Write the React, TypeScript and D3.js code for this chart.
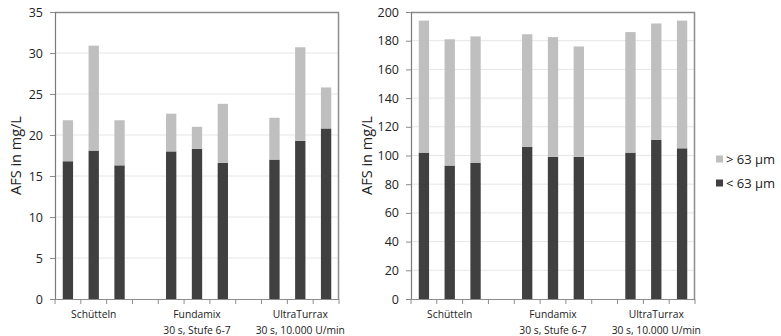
import React, { useEffect, useRef } from 'react';
import * as d3 from 'd3';

// slots on the x axis: three groups of three bars with an empty slot between groups
const slotKeys = ['s1', 's2', 's3', 'g1', 'f1', 'f2', 'f3', 'g2', 'u1', 'u2', 'u3'];
const barSlots = ['s1', 's2', 's3', 'f1', 'f2', 'f3', 'u1', 'u2', 'u3'];
const groupLabels = [
  { slot: 's2', lines: ['Schütteln'] },
  { slot: 'f2', lines: ['Fundamix', '30 s, Stufe 6-7'] },
  { slot: 'u2', lines: ['UltraTurrax', '30 s, 10.000 U/min'] },
];

const seriesNames = ['< 63 µm', '> 63 µm'];
const seriesColors = ['#404040', '#bfbfbf'];

// left panel
const leftFine = [16.8, 18.1, 16.3, 18.0, 18.3, 16.6, 17.0, 19.3, 20.8];
const leftCoarse = [5.0, 12.8, 5.5, 4.6, 2.7, 7.2, 5.1, 11.4, 5.0];
const leftTicks = [0, 5, 10, 15, 20, 25, 30, 35];

// right panel
const rightFine = [102, 93, 95, 106, 99, 99, 102, 111, 105];
const rightCoarse = [92, 88, 88, 78.5, 83.5, 77, 84, 81, 89];
const rightTicks = [0, 20, 40, 60, 80, 100, 120, 140, 160, 180, 200];

const FONT = '"Open Sans", sans-serif';

const drawPanel = (svg, opts) => {
  const { left, right, top, bottom, fine, coarse, ticks, max, titleX } = opts;

  const x = d3.scaleBand().domain(slotKeys).range([left, right]).paddingInner(0.6).paddingOuter(0.3);
  const y = d3.scaleLinear().domain([0, max]).range([bottom, top]);

  const g = svg.append('g');

  // grid lines
  g.append('g')
    .selectAll('line')
    .data(ticks.filter(t => t > 0 && t < max))
    .enter()
    .append('line')
    .attr('x1', left)
    .attr('x2', right)
    .attr('y1', d => y(d))
    .attr('y2', d => y(d))
    .attr('stroke', '#e6e6e6')
    .attr('stroke-width', 1);

  // stacked bars
  const rows = barSlots.map((s, i) => ({ slot: s, fine: fine[i], coarse: coarse[i] }));
  const stacked = d3.stack().keys(['fine', 'coarse'])(rows);

  g.append('g')
    .selectAll('g')
    .data(stacked)
    .enter()
    .append('g')
    .attr('fill', (d, i) => seriesColors[i])
    .selectAll('rect')
    .data(d => d)
    .enter()
    .append('rect')
    .attr('x', d => x(d.data.slot))
    .attr('width', x.bandwidth())
    .attr('y', d => y(d[1]))
    .attr('height', d => y(d[0]) - y(d[1]));

  // frame: top and right
  g.append('path')
    .attr('d', `M${left},${top + 0.5}H${right - 0.5}V${bottom}`)
    .attr('fill', 'none')
    .attr('stroke', '#8c8c8c')
    .attr('stroke-width', 1.5);

  // y axis
  const yAxis = g.append('g')
    .attr('transform', `translate(${left},0)`)
    .call(d3.axisLeft(y).tickValues(ticks).tickSize(5).tickPadding(7));
  yAxis.select('.domain').attr('stroke', '#7a7a7a').attr('stroke-width', 1.2);
  yAxis.selectAll('.tick line').attr('stroke', '#8c8c8c');
  yAxis.selectAll('text')
    .attr('font-family', FONT)
    .attr('font-size', 12.5)
    .attr('fill', '#222');

  // x axis with ticks on slot boundaries
  g.append('line')
    .attr('x1', left)
    .attr('x2', right)
    .attr('y1', bottom + 0.5)
    .attr('y2', bottom + 0.5)
    .attr('stroke', '#8c8c8c')
    .attr('stroke-width', 1.2);
  const step = x.step();
  const edges = d3.range(slotKeys.length + 1).map(i => x.range()[0] + (x.paddingOuter() - x.paddingInner() / 2) * step + i * step);
  g.append('g')
    .selectAll('line')
    .data(edges)
    .enter()
    .append('line')
    .attr('x1', d => d)
    .attr('x2', d => d)
    .attr('y1', bottom)
    .attr('y2', bottom + 5)
    .attr('stroke', '#8c8c8c');

  // category labels
  groupLabels.forEach(gl => {
    const cx = x(gl.slot) + x.bandwidth() / 2;
    gl.lines.forEach((line, j) => {
      g.append('text')
        .attr('x', cx)
        .attr('y', bottom + 15 + j * 15.5)
        .attr('text-anchor', 'middle')
        .attr('dominant-baseline', 'central')
        .attr('font-family', FONT)
        .attr('font-size', 10.3)
        .attr('fill', '#222')
        .text(line);
    });
  });

  // y title
  g.append('text')
    .attr('transform', `translate(${titleX},${(top + bottom) / 2}) rotate(-90)`)
    .attr('text-anchor', 'middle')
    .attr('dominant-baseline', 'central')
    .attr('font-family', FONT)
    .attr('font-size', 14.5)
    .attr('fill', '#222')
    .text('AFS in mg/L');
};

const App = () => {
  const svgRef = useRef(null);

  useEffect(() => {
    document.body.style.margin = '0';
    const svg = d3.select(svgRef.current);
    svg.selectAll('*').remove();

    drawPanel(svg, {
      left: 55, right: 339, top: 12, bottom: 299,
      fine: leftFine, coarse: leftCoarse, ticks: leftTicks, max: 35, titleX: 15,
    });
    drawPanel(svg, {
      left: 411, right: 695, top: 12, bottom: 299,
      fine: rightFine, coarse: rightCoarse, ticks: rightTicks, max: 200, titleX: 366,
    });

    // legend (top entry is the upper stack segment)
    const legend = svg.append('g');
    const items = [1, 0];
    items.forEach((si, i) => {
      const yy = 159 + i * 24;
      legend.append('rect')
        .attr('x', 716)
        .attr('y', yy - 3.5)
        .attr('width', 7)
        .attr('height', 7)
        .attr('fill', seriesColors[si]);
      legend.append('text')
        .attr('x', 726)
        .attr('y', yy)
        .attr('dominant-baseline', 'central')
        .attr('font-family', FONT)
        .attr('font-size', 13)
        .attr('fill', '#222')
        .text(seriesNames[si]);
    });
  }, []);

  return <svg ref={svgRef} width={781} height={336} style={{ display: 'block', background: '#fff' }} />;
};

export default App;
